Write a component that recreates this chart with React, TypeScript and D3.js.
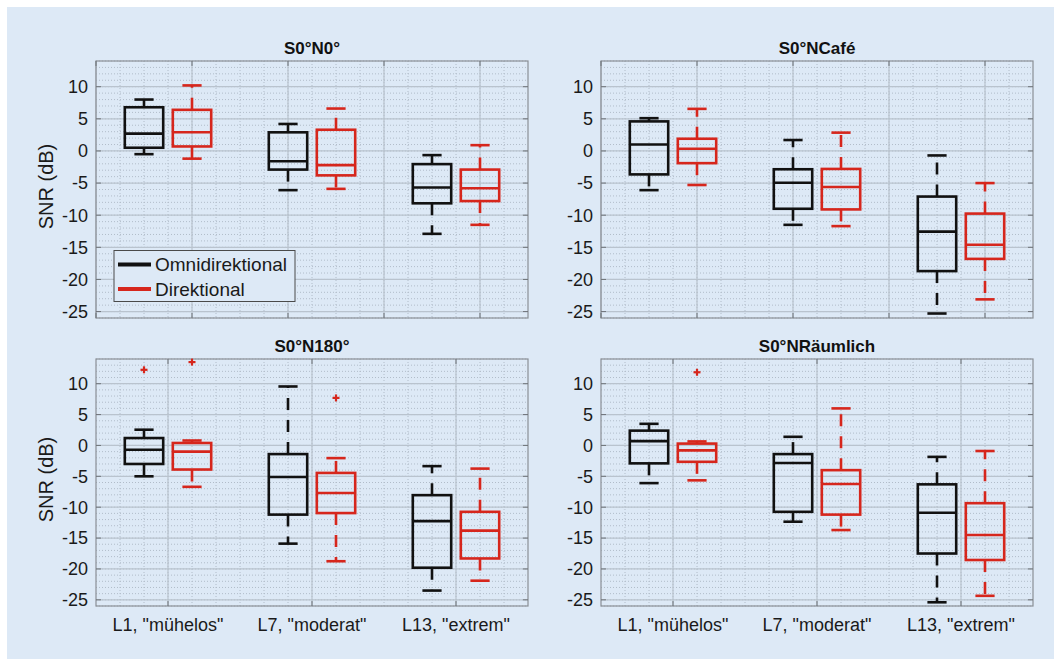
import React from 'react';
import * as d3 from 'd3';

const panelTitles = ['S0°N0°', 'S0°NCafé', 'S0°N180°', 'S0°NRäumlich'];
const categories = ['L1, "mühelos"', 'L7, "moderat"', 'L13, "extrem"'];
const seriesNames = ['Omnidirektional', 'Direktional'];
const yTicks = [-25, -20, -15, -10, -5, 0, 5, 10];

// [lower whisker, q1, median, q3, upper whisker] per category
const n0Omni = [[-0.5, 0.5, 2.7, 6.8, 8.0], [-6.1, -2.9, -1.6, 2.9, 4.2], [-12.9, -8.15, -5.7, -2.05, -0.65]];
const n0Dir = [[-1.2, 0.7, 2.9, 6.4, 10.2], [-5.9, -3.8, -2.2, 3.3, 6.6], [-11.5, -7.8, -5.8, -2.9, 0.9]];
const cafeOmni = [[-6.1, -3.65, 1.0, 4.6, 5.1], [-11.5, -9.0, -4.95, -2.85, 1.7], [-25.3, -18.7, -12.55, -7.1, -0.7]];
const cafeDir = [[-5.3, -1.9, 0.35, 1.9, 6.55], [-11.7, -9.1, -5.6, -2.8, 2.85], [-23.1, -16.8, -14.6, -9.75, -5.0]];
const n180Omni = [[-5.0, -3.0, -0.7, 1.2, 2.55], [-15.9, -11.2, -5.1, -1.4, 9.55], [-23.5, -19.8, -12.25, -8.05, -3.35]];
const n180Dir = [[-6.7, -3.9, -1.0, 0.4, 0.8], [-18.75, -10.95, -7.7, -4.45, -2.05], [-21.9, -18.3, -13.8, -10.75, -3.75]];
const raumOmni = [[-6.1, -2.9, 0.7, 2.4, 3.5], [-12.35, -10.75, -2.85, -1.4, 1.4], [-25.4, -17.5, -10.9, -6.3, -1.85]];
const raumDir = [[-5.65, -2.65, -0.8, 0.3, 0.65], [-13.7, -11.2, -6.25, -4.0, 6.0], [-24.35, -18.55, -14.5, -9.35, -0.9]];

// outliers: [category index, value]
const n0OmniOut: number[][] = [];
const n0DirOut: number[][] = [];
const cafeOmniOut: number[][] = [];
const cafeDirOut: number[][] = [];
const n180OmniOut = [[0, 12.25]];
const n180DirOut = [[0, 13.5], [1, 7.7]];
const raumOmniOut: number[][] = [];
const raumDirOut = [[0, 11.85]];

const panelData = [
  { omni: n0Omni, dir: n0Dir, omniOut: n0OmniOut, dirOut: n0DirOut },
  { omni: cafeOmni, dir: cafeDir, omniOut: cafeOmniOut, dirOut: cafeDirOut },
  { omni: n180Omni, dir: n180Dir, omniOut: n180OmniOut, dirOut: n180DirOut },
  { omni: raumOmni, dir: raumDir, omniOut: raumOmniOut, dirOut: raumDirOut },
];

const COLORS = ['#111111', '#d6261c'];
const OUTLIER = '#d6261c';
const BG = '#dde9f6';
const FONT = 'Liberation Sans, Arial, Helvetica, sans-serif';

const layouts = [
  { left: 96, right: 528, top: 61, bottom: 318 },
  { left: 601, right: 1033, top: 61, bottom: 318 },
  { left: 96, right: 528, top: 359, bottom: 606 },
  { left: 601, right: 1033, top: 359, bottom: 606 },
];

function Panel({ idx }: { idx: number }) {
  const L = layouts[idx];
  const d = panelData[idx];
  const x = d3.scaleLinear().domain([0, 9]).range([L.left, L.right]);
  const y = d3.scaleLinear().domain([-26, 14]).range([L.bottom, L.top]);
  const bottomRow = idx >= 2;
  const xMajor = bottomRow ? [1.5, 4.5, 7.5] : [0, 2, 4, 6, 8];
  const xMinor = d3.range(0.5, 9, 0.5);
  const yMinor = d3.range(-26, 14.01, 1);
  const boxW = 0.8;
  const capW = 0.4;
  const tickLen = 5;

  const drawBox = (stats: number[], pos: number, color: string, key: string) => {
    const [lo, q1, med, q3, hi] = stats;
    const x0 = x(pos - boxW / 2), x1 = x(pos + boxW / 2);
    const cx = x(pos);
    return (
      <g key={key} stroke={color} fill="none" strokeWidth={2.6}>
        <line x1={cx} x2={cx} y1={y(q3)} y2={y(hi)} strokeDasharray="12,10" />
        <line x1={cx} x2={cx} y1={y(q1)} y2={y(lo)} strokeDasharray="12,10" />
        <line x1={x(pos - capW / 2)} x2={x(pos + capW / 2)} y1={y(hi)} y2={y(hi)} />
        <line x1={x(pos - capW / 2)} x2={x(pos + capW / 2)} y1={y(lo)} y2={y(lo)} />
        <rect x={x0} y={y(q3)} width={x1 - x0} height={y(q1) - y(q3)} />
        <line x1={x0} x2={x1} y1={y(med)} y2={y(med)} />
      </g>
    );
  };

  const drawOut = (pts: number[][], offset: number, key: string) =>
    pts.map((p, i) => {
      const cx = x(p[0] * 3 + 1 + offset);
      const cy = y(p[1]);
      return (
        <g key={key + i} stroke={OUTLIER} strokeWidth={2.2}>
          <line x1={cx - 3.5} x2={cx + 3.5} y1={cy} y2={cy} />
          <line x1={cx} x2={cx} y1={cy - 3.5} y2={cy + 3.5} />
        </g>
      );
    });

  return (
    <g>
      {/* minor grid */}
      <g stroke="#a3aebb" strokeWidth={1} strokeDasharray="1,2" opacity={0.75}>
        {xMinor.map((v) => (
          <line key={'xm' + v} x1={x(v)} x2={x(v)} y1={L.top} y2={L.bottom} />
        ))}
        {yMinor.map((v) => (
          <line key={'ym' + v} x1={L.left} x2={L.right} y1={y(v)} y2={y(v)} />
        ))}
      </g>
      {/* major grid */}
      <g stroke="#b9c3ce" strokeWidth={1.2}>
        {xMajor.map((v) => (
          <line key={'xM' + v} x1={x(v)} x2={x(v)} y1={L.top} y2={L.bottom} />
        ))}
        {yTicks.map((v) => (
          <line key={'yM' + v} x1={L.left} x2={L.right} y1={y(v)} y2={y(v)} />
        ))}
      </g>
      {/* frame */}
      <rect x={L.left} y={L.top} width={L.right - L.left} height={L.bottom - L.top} fill="none" stroke="#8a8f96" strokeWidth={1.2} />
      {/* ticks */}
      <g stroke="#6f747a" strokeWidth={1}>
        {yTicks.map((v) => (
          <g key={'t' + v}>
            <line x1={L.left} x2={L.left + tickLen} y1={y(v)} y2={y(v)} />
            <line x1={L.right} x2={L.right - tickLen} y1={y(v)} y2={y(v)} />
          </g>
        ))}
        {xMajor.map((v) => (
          <g key={'tx' + v}>
            <line x1={x(v)} x2={x(v)} y1={L.bottom} y2={L.bottom - tickLen} />
            <line x1={x(v)} x2={x(v)} y1={L.top} y2={L.top + tickLen} />
          </g>
        ))}
      </g>
      {/* y tick labels */}
      <g fontFamily={FONT} fontSize={18} fill="#1a1a1a" textAnchor="end">
        {yTicks.map((v) => (
          <text key={'yl' + v} x={L.left - 8} y={y(v)} dy="0.35em">
            {v}
          </text>
        ))}
      </g>
      {bottomRow &&
        categories.map((c, i) => (
          <text key={'c' + i} x={x(i * 3 + 1.5)} y={L.bottom + 25} fontFamily={FONT} fontSize={18} fill="#1a1a1a" textAnchor="middle">
            {c}
          </text>
        ))}
      {/* title */}
      <text x={(L.left + L.right) / 2} y={L.top - 7} fontFamily={FONT} fontSize={17} fontWeight="bold" fill="#111" textAnchor="middle">
        {panelTitles[idx]}
      </text>
      {idx % 2 === 0 && (
        <text transform={`translate(53,${(L.top + L.bottom) / 2 - 3}) rotate(-90)`} fontFamily={FONT} fontSize={20} fill="#1a1a1a" textAnchor="middle">
          SNR (dB)
        </text>
      )}
      {/* boxes */}
      {d.omni.map((s, i) => drawBox(s, i * 3 + 1, COLORS[0], 'o' + i))}
      {d.dir.map((s, i) => drawBox(s, i * 3 + 2, COLORS[1], 'd' + i))}
      {drawOut(d.omniOut, 0, 'oo')}
      {drawOut(d.dirOut, 1, 'do')}
      {idx === 0 && (
        <g>
          <rect x={114} y={250.5} width={181} height={51} fill={BG} stroke="#4a4a4a" strokeWidth={1} />
          {seriesNames.map((s, i) => (
            <g key={s}>
              <line x1={118} x2={151} y1={264.5 + i * 24.5} y2={264.5 + i * 24.5} stroke={COLORS[i]} strokeWidth={4} />
              <text x={155} y={264.5 + i * 24.5} dy="0.36em" fontFamily={FONT} fontSize={19} fill="#1a1a1a">
                {s}
              </text>
            </g>
          ))}
        </g>
      )}
    </g>
  );
}

export default function App() {
  return (
    <div style={{ position: 'absolute', left: 0, top: 0 }}>
      <svg width={1054} height={659} style={{ display: 'block' }}>
        <rect x={0} y={0} width={1054} height={659} fill="#ffffff" />
        <rect x={7} y={7} width={1047} height={652} fill={BG} />
        {[0, 1, 2, 3].map((i) => (
          <Panel key={i} idx={i} />
        ))}
      </svg>
    </div>
  );
}
